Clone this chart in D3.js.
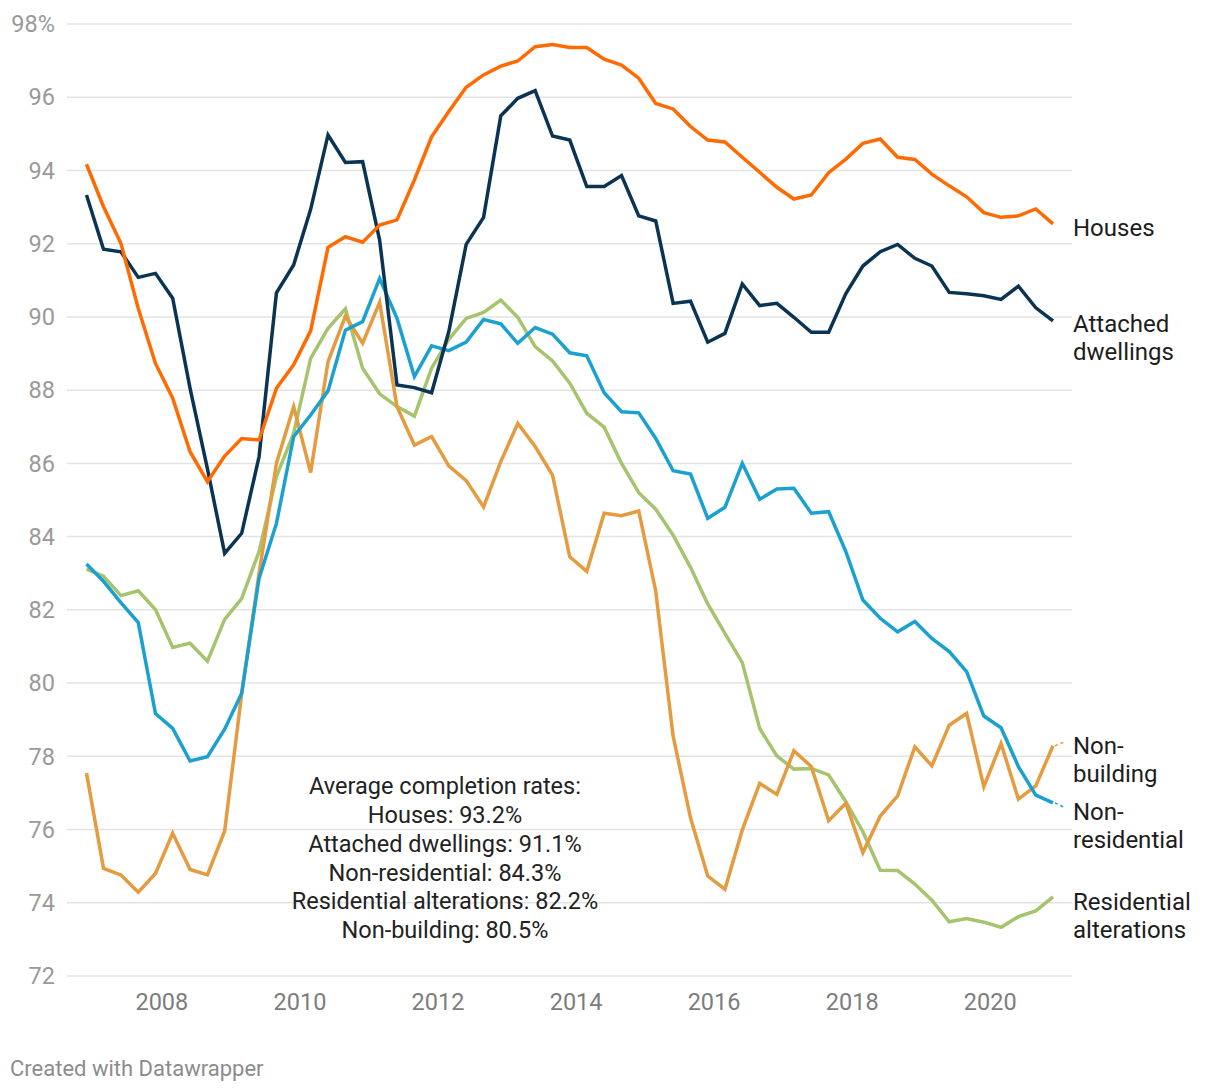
<!DOCTYPE html>
<html>
<head>
<meta charset="utf-8">
<script src="https://cdn.jsdelivr.net/npm/d3@7"></script>
<style>
  html, body { margin: 0; padding: 0; background: #fff; }
  svg { display: block; font-family: Roboto, "Noto Sans", sans-serif; }
</style>
</head>
<body>
<svg id="chart" width="1220" height="1092"></svg>
<script>
// ---------- DATA ----------
const dates = [
  "2006-12","2007-03","2007-06","2007-09","2007-12","2008-03","2008-06","2008-09","2008-12",
  "2009-03","2009-06","2009-09","2009-12","2010-03","2010-06","2010-09","2010-12",
  "2011-03","2011-06","2011-09","2011-12","2012-03","2012-06","2012-09","2012-12",
  "2013-03","2013-06","2013-09","2013-12","2014-03","2014-06","2014-09","2014-12",
  "2015-03","2015-06","2015-09","2015-12","2016-03","2016-06","2016-09","2016-12",
  "2017-03","2017-06","2017-09","2017-12","2018-03","2018-06","2018-09","2018-12",
  "2019-03","2019-06","2019-09","2019-12","2020-03","2020-06","2020-09","2020-12"
];

const houses = [
  94.17, 93.01, 92.01, 90.23, 88.73, 87.78, 86.32, 85.50, 86.20,
  86.68, 86.64, 88.05, 88.69, 89.62, 91.90, 92.19, 92.04,
  92.51, 92.65, 93.74, 94.92, 95.61, 96.27, 96.61, 96.85,
  96.99, 97.38, 97.44, 97.36, 97.36, 97.04, 96.88, 96.52,
  95.83, 95.68, 95.20, 94.83, 94.78, 94.36, 93.95, 93.54,
  93.22, 93.33, 93.94, 94.31, 94.74, 94.86, 94.36, 94.30,
  93.90, 93.58, 93.28, 92.85, 92.72, 92.76, 92.95, 92.54
];

const attached = [
  93.33, 91.85, 91.78, 91.08, 91.19, 90.51, 88.05, 85.85, 83.54,
  84.09, 86.18, 90.66, 91.42, 92.94, 94.97, 94.22, 94.24,
  92.10, 88.14, 88.07, 87.93, 89.60, 91.98, 92.72, 95.49,
  95.97, 96.18, 94.94, 94.83, 93.56, 93.56, 93.86, 92.76,
  92.62, 90.37, 90.43, 89.31, 89.55, 90.90, 90.31, 90.37,
  89.99, 89.58, 89.58, 90.64, 91.39, 91.78, 91.98, 91.60,
  91.39, 90.67, 90.63, 90.58, 90.48, 90.84, 90.25, 89.89
];

const nonResidential = [
  83.25, 82.78, 82.20, 81.65, 79.17, 78.76, 77.87, 77.99, 78.74,
  79.72, 82.86, 84.36, 86.73, 87.32, 87.98, 89.64, 89.87,
  91.05, 89.96, 88.37, 89.21, 89.08, 89.31, 89.93, 89.81,
  89.28, 89.71, 89.53, 89.02, 88.94, 87.93, 87.41, 87.38,
  86.68, 85.80, 85.71, 84.50, 84.80, 86.00, 85.02, 85.30,
  85.32, 84.64, 84.68, 83.59, 82.27, 81.77, 81.40, 81.68,
  81.22, 80.86, 80.31, 79.10, 78.78, 77.72, 76.94, 76.73
];

const residentialAlterations = [
  83.11, 82.92, 82.39, 82.52, 82.01, 80.97, 81.09, 80.60, 81.74,
  82.31, 83.59, 85.64, 86.82, 88.87, 89.69, 90.22, 88.60,
  87.90, 87.55, 87.29, 88.60, 89.39, 89.96, 90.12, 90.46,
  89.99, 89.19, 88.80, 88.19, 87.37, 86.99, 86.00, 85.20,
  84.75, 84.04, 83.16, 82.16, 81.36, 80.56, 78.76, 78.01,
  77.65, 77.67, 77.49, 76.76, 75.94, 74.89, 74.88, 74.51,
  74.07, 73.48, 73.57, 73.47, 73.33, 73.62, 73.78, 74.16
];

const nonBuilding = [
  77.54, 74.94, 74.76, 74.29, 74.80, 75.90, 74.91, 74.76, 75.96,
  79.70, 83.00, 86.00, 87.55, 85.75, 88.78, 90.02, 89.28,
  90.40, 87.55, 86.50, 86.73, 85.93, 85.53, 84.81, 86.05,
  87.09, 86.46, 85.68, 83.45, 83.05, 84.64, 84.57, 84.70,
  82.51, 78.55, 76.32, 74.73, 74.37, 75.99, 77.26, 76.96,
  78.15, 77.72, 76.24, 76.72, 75.37, 76.37, 76.92, 78.26,
  77.74, 78.85, 79.17, 77.17, 78.35, 76.83, 77.19, 78.29
];

const yTicks = [72, 74, 76, 78, 80, 82, 84, 86, 88, 90, 92, 94, 96, 98];
const xTickYears = [2008, 2010, 2012, 2014, 2016, 2018, 2020];

const annotationLines = [
  "Average completion rates:",
  "Houses: 93.2%",
  "Attached dwellings: 91.1%",
  "Non-residential: 84.3%",
  "Residential alterations: 82.2%",
  "Non-building: 80.5%"
];

// series (draw order: first drawn at bottom)
const series = [
  { name: "Residential alterations", label: ["Residential", "alterations"], values: residentialAlterations, color: "#a5c46d", dy: 5,  connector: false },
  { name: "Non-building",            label: ["Non-", "building"],          values: nonBuilding,            color: "#e59b3f", dy: 0,  connector: true  },
  { name: "Non-residential",         label: ["Non-", "residential"],       values: nonResidential,         color: "#1ba1cf", dy: 9,  connector: true  },
  { name: "Attached dwellings",      label: ["Attached", "dwellings"],     values: attached,               color: "#0b3452", dy: 3,  connector: false },
  { name: "Houses",                  label: ["Houses"],                    values: houses,                 color: "#ff6b00", dy: 4,  connector: false }
];

// ---------- LAYOUT ----------
const svg = d3.select("#chart");
const parse = d3.timeParse("%Y-%m");
const dateObjs = dates.map(parse);

const x = d3.scaleTime()
  .domain([dateObjs[0], dateObjs[dateObjs.length - 1]])
  .range([86.5, 1053]);
const y = d3.scaleLinear().domain([72, 98]).range([976, 24]);

const gridLeft = 67, gridRight = 1072;

// gridlines
svg.append("g").selectAll("line").data(yTicks).join("line")
  .attr("x1", gridLeft).attr("x2", gridRight)
  .attr("y1", d => y(d)).attr("y2", d => y(d))
  .attr("stroke", "#e3e3e3").attr("stroke-width", 1.5);

// y labels
svg.append("g").selectAll("text").data(yTicks).join("text")
  .attr("x", 55).attr("y", d => y(d))
  .attr("dy", "0.35em")
  .attr("text-anchor", "end")
  .attr("font-size", 23.5)
  .attr("fill", "#9a9a9a")
  .text(d => d === 98 ? d + "%" : d);

// x labels
const xAxis = d3.axisBottom(x)
  .tickValues(xTickYears.map(yr => new Date(yr, 0, 1)))
  .tickFormat(d3.timeFormat("%Y"))
  .tickSize(0).tickPadding(0);
const gx = svg.append("g").attr("transform", "translate(0,1002)").call(xAxis);
gx.select(".domain").remove();
gx.selectAll("text")
  .attr("dy", "0.35em").attr("y", 0)
  .attr("font-size", 23.5)
  .attr("font-family", "Roboto, 'Noto Sans', sans-serif")
  .attr("fill", "#7d7d7d");

// annotation text
const ann = svg.append("text")
  .attr("x", 445).attr("y", 786)
  .attr("text-anchor", "middle")
  .attr("font-size", 23.5)
  .attr("fill", "#222");
annotationLines.forEach((t, i) => {
  ann.append("tspan").attr("x", 445).attr("y", 786 + i * 28.8).attr("dy", "0.35em").text(t);
});

// lines
const line = d3.line()
  .x((d, i) => x(dateObjs[i]))
  .y(d => y(d))
  .curve(d3.curveLinear);

svg.append("g").selectAll("path").data(series).join("path")
  .attr("d", s => line(s.values))
  .attr("fill", "none")
  .attr("stroke", s => s.color)
  .attr("stroke-width", 3.5)
  .attr("stroke-linejoin", "miter")
  .attr("stroke-linecap", "butt");

// labels
const labelX = 1073;
series.forEach(s => {
  const last = s.values[s.values.length - 1];
  const ex = x(dateObjs[dateObjs.length - 1]);
  const ey = y(last);
  const ly = ey + s.dy;
  if (s.connector) {
    svg.append("line")
      .attr("x1", ex + 2).attr("y1", ey)
      .attr("x2", ex + 12).attr("y2", ly - 4)
      .attr("stroke", s.color).attr("stroke-width", 1.5)
      .attr("stroke-dasharray", "3,3");
  }
  const t = svg.append("text")
    .attr("font-size", 24)
    .attr("fill", "#1d1d1d");
  s.label.forEach((l, i) => {
    t.append("tspan").attr("x", labelX).attr("y", ly + i * 28).attr("dy", "0.35em").text(l);
  });
});

// footer
svg.append("text")
  .attr("x", 10).attr("y", 1068).attr("dy", "0.35em")
  .attr("font-size", 22)
  .attr("fill", "#8c8c8c")
  .text("Created with Datawrapper");
</script>
</body>
</html>
